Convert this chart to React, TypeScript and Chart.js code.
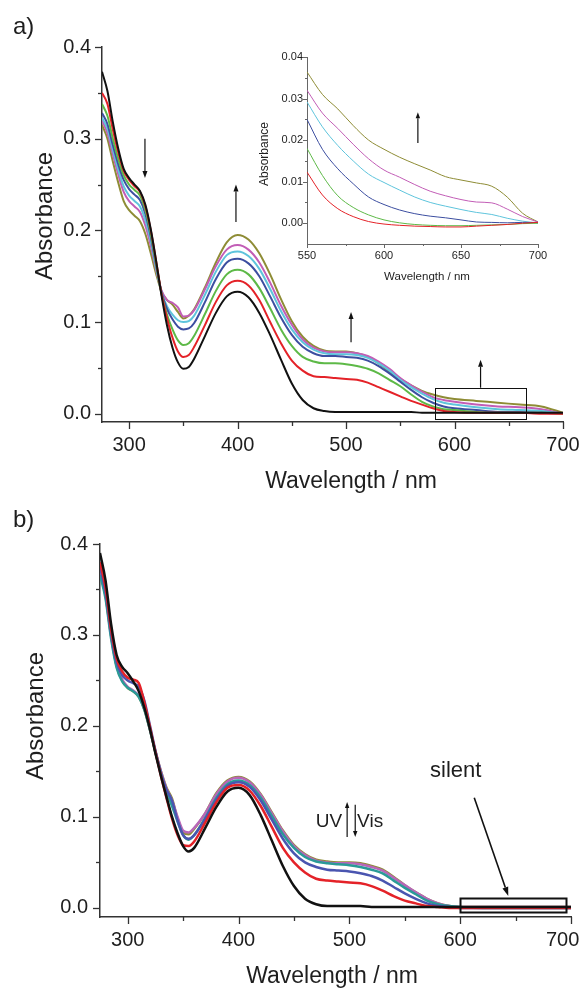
import React, { useEffect, useRef } from "react";
import { Chart, registerables } from "chart.js";

Chart.register(...registerables);

const FONT = '"Liberation Sans", Arial, Helvetica, sans-serif';
const INK = "#1e1e1e";

// ---------- data ----------
const WAVELENGTHS = [
  275, 280, 285, 290, 295, 300, 305, 310, 315, 320,
  325, 330, 335, 340, 345, 350, 355, 360,
  370, 380, 390, 400, 410, 420, 430, 440, 450, 460,
  470, 480, 490, 500, 510, 520, 530, 540, 550, 560,
  570, 580, 590, 600, 620, 640, 660, 680, 700,
];

// panel a (UV irradiation series)
const A_BLACK = [0.373, 0.352, 0.318, 0.289, 0.267, 0.257, 0.250, 0.243, 0.228, 0.201, 0.166, 0.128, 0.096, 0.072, 0.056, 0.049, 0.051, 0.060, 0.085, 0.110, 0.128, 0.133, 0.127, 0.110, 0.086, 0.059, 0.033, 0.015, 0.006, 0.003, 0.002, 0.002, 0.002, 0.002, 0.002, 0.002, 0.002, 0.002, 0.001, 0.001, 0.001, 0.001, 0.001, 0.001, 0.001, 0.001, 0.001];
const A_RED = [0.350, 0.338, 0.310, 0.285, 0.265, 0.255, 0.248, 0.242, 0.226, 0.200, 0.166, 0.130, 0.104, 0.083, 0.068, 0.062, 0.064, 0.073, 0.097, 0.122, 0.140, 0.145, 0.140, 0.124, 0.100, 0.077, 0.058, 0.047, 0.041, 0.040, 0.039, 0.038, 0.037, 0.034, 0.029, 0.024, 0.019, 0.014, 0.010, 0.006, 0.003, 0.002, 0.001, 0.001, 0.001, 0.000, 0.000];
const A_GREEN = [0.338, 0.325, 0.300, 0.278, 0.260, 0.250, 0.244, 0.238, 0.222, 0.196, 0.163, 0.130, 0.108, 0.092, 0.080, 0.075, 0.077, 0.085, 0.109, 0.134, 0.152, 0.157, 0.152, 0.137, 0.115, 0.092, 0.074, 0.062, 0.057, 0.055, 0.055, 0.054, 0.052, 0.049, 0.044, 0.037, 0.030, 0.021, 0.013, 0.008, 0.005, 0.004, 0.002, 0.001, 0.001, 0.001, 0.000];
const A_BLUE = [0.328, 0.316, 0.293, 0.272, 0.255, 0.245, 0.239, 0.233, 0.218, 0.193, 0.161, 0.132, 0.114, 0.103, 0.095, 0.092, 0.093, 0.099, 0.122, 0.147, 0.165, 0.169, 0.164, 0.150, 0.128, 0.105, 0.086, 0.073, 0.066, 0.063, 0.063, 0.062, 0.061, 0.058, 0.052, 0.044, 0.035, 0.026, 0.018, 0.012, 0.008, 0.006, 0.004, 0.002, 0.002, 0.001, 0.000];
const A_CYAN = [0.323, 0.311, 0.288, 0.266, 0.248, 0.238, 0.232, 0.226, 0.211, 0.188, 0.158, 0.132, 0.117, 0.108, 0.102, 0.100, 0.101, 0.107, 0.130, 0.155, 0.173, 0.177, 0.172, 0.158, 0.136, 0.112, 0.092, 0.078, 0.070, 0.066, 0.065, 0.065, 0.064, 0.061, 0.055, 0.047, 0.037, 0.029, 0.022, 0.016, 0.012, 0.010, 0.007, 0.005, 0.004, 0.003, 0.000];
const A_MAGENTA = [0.320, 0.306, 0.283, 0.261, 0.242, 0.232, 0.226, 0.220, 0.205, 0.183, 0.156, 0.134, 0.124, 0.121, 0.116, 0.106, 0.107, 0.113, 0.136, 0.161, 0.179, 0.184, 0.179, 0.165, 0.143, 0.118, 0.097, 0.081, 0.072, 0.068, 0.067, 0.067, 0.066, 0.063, 0.057, 0.049, 0.039, 0.031, 0.024, 0.018, 0.015, 0.013, 0.010, 0.008, 0.007, 0.005, 0.000];
const A_OLIVE = [0.315, 0.300, 0.275, 0.252, 0.232, 0.222, 0.216, 0.210, 0.196, 0.175, 0.152, 0.133, 0.124, 0.119, 0.111, 0.104, 0.107, 0.114, 0.138, 0.165, 0.187, 0.195, 0.190, 0.175, 0.152, 0.125, 0.101, 0.084, 0.074, 0.069, 0.068, 0.068, 0.066, 0.062, 0.055, 0.046, 0.038, 0.031, 0.025, 0.021, 0.018, 0.016, 0.014, 0.012, 0.010, 0.008, 0.001];

// inset of panel a (550-700 nm)
const INSET_WL = [550, 560, 570, 580, 590, 600, 610, 620, 630, 640, 650, 660, 670, 680, 690, 700];
const I_RED = [0.0123, 0.0068, 0.0035, 0.0016, 0.0004, -0.0002, -0.0005, -0.0007, -0.0008, -0.0009, -0.0009, -0.0007, -0.0005, -0.0003, 0.0, 0.0002];
const I_GREEN = [0.018, 0.0115, 0.0066, 0.0038, 0.002, 0.0008, 0.0001, -0.0003, -0.0005, -0.0006, -0.0006, -0.0005, -0.0004, -0.0003, -0.0001, 0.0];
const I_BLUE = [0.025, 0.0178, 0.0131, 0.0095, 0.0063, 0.0045, 0.0032, 0.0023, 0.0017, 0.0013, 0.0008, 0.0003, 0.0002, 0.0001, 0.0002, 0.0002];
const I_CYAN = [0.0292, 0.0232, 0.0187, 0.015, 0.0118, 0.0098, 0.008, 0.0063, 0.005, 0.0041, 0.0033, 0.0026, 0.0021, 0.0012, 0.0005, 0.0];
const I_MAGENTA = [0.032, 0.0265, 0.0228, 0.019, 0.0155, 0.0128, 0.0111, 0.0093, 0.0077, 0.0066, 0.0057, 0.0051, 0.0049, 0.0034, 0.0016, 0.0003];
const I_OLIVE = [0.0364, 0.031, 0.0275, 0.0235, 0.020, 0.0178, 0.0159, 0.0143, 0.0128, 0.0112, 0.0104, 0.0097, 0.0089, 0.0063, 0.0024, 0.0003];

// panel b (UV / Vis switching series)
const B_BLACK = [0.390, 0.360, 0.312, 0.278, 0.265, 0.258, 0.249, 0.238, 0.220, 0.197, 0.170, 0.145, 0.122, 0.100, 0.082, 0.068, 0.062, 0.066, 0.088, 0.111, 0.128, 0.132, 0.124, 0.102, 0.074, 0.046, 0.024, 0.010, 0.004, 0.002, 0.002, 0.002, 0.002, 0.001, 0.001, 0.001, 0.001, 0.001, 0.001, 0.001, 0.001, 0.001, 0.001, 0.001, 0.001, 0.001, 0.001];
const B_RED = [0.380, 0.352, 0.306, 0.274, 0.260, 0.253, 0.251, 0.247, 0.226, 0.199, 0.171, 0.145, 0.121, 0.098, 0.080, 0.069, 0.068, 0.073, 0.094, 0.116, 0.132, 0.135, 0.129, 0.112, 0.089, 0.066, 0.050, 0.039, 0.032, 0.030, 0.029, 0.028, 0.027, 0.024, 0.019, 0.013, 0.008, 0.005, 0.002, 0.001, 0.000, 0.000, 0.000, 0.000, 0.000, 0.000, 0.000];
const B_BLUE = [0.375, 0.347, 0.302, 0.270, 0.256, 0.250, 0.247, 0.243, 0.228, 0.201, 0.173, 0.148, 0.130, 0.118, 0.096, 0.080, 0.076, 0.080, 0.098, 0.119, 0.134, 0.138, 0.133, 0.118, 0.097, 0.076, 0.060, 0.050, 0.045, 0.042, 0.041, 0.040, 0.038, 0.035, 0.030, 0.023, 0.016, 0.010, 0.005, 0.002, 0.001, 0.000, 0.000, 0.000, 0.000, 0.000, 0.000];
const B_TEAL = [0.366, 0.340, 0.296, 0.264, 0.249, 0.242, 0.238, 0.232, 0.218, 0.196, 0.171, 0.148, 0.128, 0.112, 0.095, 0.080, 0.075, 0.080, 0.099, 0.121, 0.136, 0.140, 0.135, 0.121, 0.101, 0.081, 0.066, 0.056, 0.051, 0.049, 0.048, 0.047, 0.045, 0.042, 0.038, 0.030, 0.022, 0.015, 0.008, 0.004, 0.002, 0.001, 0.000, 0.000, 0.000, 0.000, 0.000];
const B_MAGENTA = [0.374, 0.345, 0.300, 0.267, 0.251, 0.243, 0.239, 0.233, 0.219, 0.197, 0.172, 0.150, 0.131, 0.118, 0.100, 0.085, 0.083, 0.088, 0.104, 0.125, 0.139, 0.143, 0.138, 0.124, 0.104, 0.084, 0.068, 0.058, 0.052, 0.050, 0.049, 0.049, 0.048, 0.045, 0.041, 0.033, 0.025, 0.017, 0.010, 0.005, 0.002, 0.001, 0.001, 0.001, 0.001, 0.001, 0.001];
const B_OLIVE = [0.371, 0.343, 0.299, 0.266, 0.250, 0.242, 0.238, 0.232, 0.218, 0.196, 0.172, 0.150, 0.132, 0.120, 0.098, 0.083, 0.081, 0.087, 0.104, 0.126, 0.140, 0.144, 0.139, 0.125, 0.105, 0.085, 0.069, 0.059, 0.053, 0.051, 0.050, 0.050, 0.049, 0.046, 0.042, 0.034, 0.025, 0.017, 0.010, 0.005, 0.002, 0.001, 0.001, 0.001, 0.001, 0.001, 0.001];

// axis ticks
const MAIN_X_TICKS = [300, 400, 500, 600, 700];
const MAIN_X_MINOR = [350, 450, 550, 650];
const MAIN_Y_TICKS = [0.0, 0.1, 0.2, 0.3, 0.4];
const MAIN_Y_MINOR = [0.05, 0.15, 0.25, 0.35];
const INSET_X_TICKS = [550, 600, 650, 700];
const INSET_X_MINOR = [575, 625, 675];
const INSET_Y_TICKS = [0.0, 0.01, 0.02, 0.03, 0.04];
const INSET_Y_MINOR = [0.005, 0.015, 0.025, 0.035];

const COLORS = {
  black: "#111111",
  red: "#e42228",
  green: "#5db947",
  blue: "#3c4ea0",
  cyan: "#5ec4dc",
  magenta: "#c25db6",
  olive: "#8e8c35",
  blueB: "#4a55b0",
  teal: "#2a9a98",
  magentaB: "#b866b8",
};

// ---------- helpers ----------
function series(label, xs, ys, color, width) {
  return {
    label,
    data: xs.map((x, i) => ({ x, y: ys[i] })),
    borderColor: color,
    backgroundColor: color,
    borderWidth: width,
    pointRadius: 0,
    fill: false,
    cubicInterpolationMode: "monotone",
  };
}

function drawArrow(ctx, x1, y1, x2, y2, head, hw) {
  const ang = Math.atan2(y2 - y1, x2 - x1);
  const bx = x2 - head * Math.cos(ang);
  const by = y2 - head * Math.sin(ang);
  ctx.beginPath();
  ctx.moveTo(x1, y1);
  ctx.lineTo(bx, by);
  ctx.stroke();
  ctx.beginPath();
  ctx.moveTo(x2, y2);
  ctx.lineTo(bx + hw * Math.sin(ang), by - hw * Math.cos(ang));
  ctx.lineTo(bx - hw * Math.sin(ang), by + hw * Math.cos(ang));
  ctx.closePath();
  ctx.fill();
}

function decorPlugin(cfg) {
  return {
    id: "decor",
    afterDraw(chart) {
      const ctx = chart.ctx;
      const xs = chart.scales.x;
      const ys = chart.scales.y;
      const a = chart.chartArea;
      ctx.save();
      // tick marks (outward)
      ctx.strokeStyle = cfg.axisColor;
      ctx.lineWidth = cfg.tickWidth;
      const tick = (x1, y1, x2, y2) => {
        ctx.beginPath();
        ctx.moveTo(x1, y1);
        ctx.lineTo(x2, y2);
        ctx.stroke();
      };
      cfg.yMajor.forEach((v) => {
        const p = Math.round(ys.getPixelForValue(v)) + 0.5;
        tick(a.left - cfg.majorLen, p, a.left, p);
      });
      cfg.yMinor.forEach((v) => {
        const p = Math.round(ys.getPixelForValue(v)) + 0.5;
        tick(a.left - cfg.minorLen, p, a.left, p);
      });
      cfg.xMajor.forEach((v) => {
        const p = Math.round(xs.getPixelForValue(v)) + 0.5;
        tick(p, a.bottom, p, a.bottom + cfg.majorLen);
      });
      cfg.xMinor.forEach((v) => {
        const p = Math.round(xs.getPixelForValue(v)) + 0.5;
        tick(p, a.bottom, p, a.bottom + cfg.minorLen);
      });

      // axis titles
      ctx.fillStyle = INK;
      ctx.textBaseline = "alphabetic";
      ctx.font = `${cfg.xTitleSize}px ${FONT}`;
      ctx.textAlign = "center";
      ctx.fillText(cfg.xTitle, cfg.xTitleX, cfg.xTitleY);
      ctx.save();
      ctx.translate(cfg.yTitleX, cfg.yTitleY);
      ctx.rotate(-Math.PI / 2);
      ctx.font = `${cfg.yTitleSize}px ${FONT}`;
      ctx.fillText(cfg.yTitle, 0, 0);
      ctx.restore();

      if (cfg.panelLabel) {
        ctx.textAlign = "left";
        ctx.font = `${cfg.panelLabel.size}px ${FONT}`;
        ctx.fillText(cfg.panelLabel.text, cfg.panelLabel.x, cfg.panelLabel.y);
      }

      // annotations in data coordinates
      ctx.strokeStyle = "#111";
      ctx.fillStyle = "#111";
      (cfg.rects || []).forEach((r) => {
        ctx.lineWidth = r.lw;
        const x1 = xs.getPixelForValue(r.x1);
        const x2 = xs.getPixelForValue(r.x2);
        const y1 = ys.getPixelForValue(r.y1);
        const y2 = ys.getPixelForValue(r.y2);
        ctx.strokeRect(Math.round(x1) + 0.5, Math.round(y2) + 0.5, Math.round(x2 - x1), Math.round(y1 - y2));
      });
      (cfg.arrows || []).forEach((ar) => {
        ctx.lineWidth = ar.lw;
        drawArrow(
          ctx,
          xs.getPixelForValue(ar.x1),
          ys.getPixelForValue(ar.y1),
          xs.getPixelForValue(ar.x2),
          ys.getPixelForValue(ar.y2),
          ar.head,
          ar.hw
        );
      });
      (cfg.texts || []).forEach((t) => {
        ctx.font = `${t.size}px ${FONT}`;
        ctx.textAlign = t.align;
        ctx.fillStyle = INK;
        ctx.fillText(t.text, xs.getPixelForValue(t.x), ys.getPixelForValue(t.y));
      });
      ctx.restore();
    },
  };
}

function buildConfig(p) {
  return {
    type: "line",
    data: { datasets: p.datasets },
    options: {
      responsive: false,
      maintainAspectRatio: false,
      animation: false,
      devicePixelRatio: 1,
      layout: { padding: { left: 0, right: p.padRight, top: p.padTop, bottom: 0 } },
      plugins: { legend: { display: false }, tooltip: { enabled: false }, title: { display: false } },
      scales: {
        x: {
          type: "linear",
          min: p.xMin,
          max: p.xMax,
          grid: { display: false, drawTicks: false },
          border: { display: true, color: p.axisColor, width: p.axisWidth },
          afterBuildTicks: (s) => {
            s.ticks = p.xTicks.map((v) => ({ value: v }));
          },
          afterFit: (s) => {
            s.height = p.xHeight;
            s.paddingLeft = 0;
            s.paddingRight = 0;
          },
          ticks: {
            autoSkip: false,
            maxRotation: 0,
            minRotation: 0,
            padding: p.xPad,
            color: INK,
            font: { family: FONT, size: p.tickSize },
            // the last label of a panel may be nudged left (trailing spaces) to stay inside the page, as in the original
            callback: (v) => (p.lastLabelPad && v === p.xMax ? String(v) + p.lastLabelPad : String(v)),
          },
        },
        y: {
          type: "linear",
          min: p.yMin,
          max: p.yMax,
          grid: { display: false, drawTicks: false },
          border: { display: true, color: p.axisColor, width: p.axisWidth },
          afterBuildTicks: (s) => {
            s.ticks = p.yTicks.map((v) => ({ value: v }));
          },
          afterFit: (s) => {
            s.width = p.yWidth;
            s.paddingTop = 0;
            s.paddingBottom = 0;
          },
          ticks: {
            autoSkip: false,
            padding: p.yPad,
            color: INK,
            font: { family: FONT, size: p.tickSize },
            callback: (v) => Number(v).toFixed(p.yDecimals),
          },
        },
      },
    },
    plugins: [decorPlugin(p.decor)],
  };
}

function ChartCanvas({ left, top, width, height, make }) {
  const ref = useRef(null);
  useEffect(() => {
    const chart = new Chart(ref.current, make());
    return () => chart.destroy();
  }, []);
  return (
    <canvas
      ref={ref}
      width={width}
      height={height}
      style={{ position: "absolute", left, top, width, height, display: "block" }}
    />
  );
}

// ---------- chart configs ----------
const makePanelA = () =>
  buildConfig({
    datasets: [
      series("0", WAVELENGTHS, A_BLACK, COLORS.black, 2),
      series("1", WAVELENGTHS, A_RED, COLORS.red, 2),
      series("2", WAVELENGTHS, A_GREEN, COLORS.green, 2),
      series("3", WAVELENGTHS, A_BLUE, COLORS.blue, 2),
      series("4", WAVELENGTHS, A_CYAN, COLORS.cyan, 2),
      series("5", WAVELENGTHS, A_MAGENTA, COLORS.magenta, 2),
      series("6", WAVELENGTHS, A_OLIVE, COLORS.olive, 2),
    ],
    xMin: 275,
    xMax: 700,
    yMin: -0.009,
    yMax: 0.4,
    xTicks: MAIN_X_TICKS,
    yTicks: MAIN_Y_TICKS,
    yDecimals: 1,
    padRight: 18,
    padTop: 47,
    yWidth: 102,
    xHeight: 78,
    xPad: 11,
    yPad: 11,
    tickSize: 20,
    axisColor: "#333",
    axisWidth: 1.5,
    lastLabelPad: "",
    decor: {
      axisColor: "#333",
      tickWidth: 1.3,
      majorLen: 7,
      minorLen: 4,
      xMajor: MAIN_X_TICKS,
      xMinor: MAIN_X_MINOR,
      yMajor: MAIN_Y_TICKS,
      yMinor: MAIN_Y_MINOR,
      xTitle: "Wavelength / nm",
      xTitleSize: 23,
      xTitleX: 351,
      xTitleY: 488,
      yTitle: "Absorbance",
      yTitleSize: 24,
      yTitleX: 52,
      yTitleY: 216,
      panelLabel: { text: "a)", x: 13, y: 34, size: 24 },
      rects: [{ x1: 582, x2: 666, y1: -0.0055, y2: 0.0284, lw: 1 }],
      arrows: [
        { x1: 314.6, y1: 0.3, x2: 314.6, y2: 0.257, lw: 1.2, head: 7, hw: 2.5 },
        { x1: 398.5, y1: 0.209, x2: 398.5, y2: 0.25, lw: 1.2, head: 7, hw: 2.5 },
        { x1: 504.6, y1: 0.078, x2: 504.6, y2: 0.111, lw: 1.2, head: 7, hw: 2.5 },
        { x1: 624, y1: 0.0284, x2: 624, y2: 0.059, lw: 1.2, head: 7, hw: 2.5 },
      ],
      texts: [],
    },
  });

const makeInset = () =>
  buildConfig({
    datasets: [
      series("red", INSET_WL, I_RED, COLORS.red, 1),
      series("green", INSET_WL, I_GREEN, COLORS.green, 1),
      series("blue", INSET_WL, I_BLUE, COLORS.blue, 1),
      series("cyan", INSET_WL, I_CYAN, COLORS.cyan, 1),
      series("magenta", INSET_WL, I_MAGENTA, COLORS.magenta, 1),
      series("olive", INSET_WL, I_OLIVE, COLORS.olive, 1),
    ],
    xMin: 550,
    xMax: 700,
    yMin: -0.005,
    yMax: 0.04,
    xTicks: INSET_X_TICKS,
    yTicks: INSET_Y_TICKS,
    yDecimals: 2,
    padRight: 43,
    padTop: 57,
    yWidth: 67,
    xHeight: 46,
    xPad: 5,
    yPad: 4,
    tickSize: 11,
    axisColor: "#666",
    axisWidth: 1,
    lastLabelPad: "",
    decor: {
      axisColor: "#666",
      tickWidth: 1,
      majorLen: 4,
      minorLen: 2,
      xMajor: INSET_X_TICKS,
      xMinor: INSET_X_MINOR,
      yMajor: INSET_Y_TICKS,
      yMinor: INSET_Y_MINOR,
      xTitle: "Wavelength / nm",
      xTitleSize: 11.5,
      xTitleX: 187,
      xTitleY: 280,
      yTitle: "Absorbance",
      yTitleSize: 12,
      yTitleX: 28,
      yTitleY: 154,
      panelLabel: null,
      rects: [],
      arrows: [{ x1: 622, y1: 0.0193, x2: 622, y2: 0.0267, lw: 1.2, head: 6, hw: 2.2 }],
      texts: [],
    },
  });

const makePanelB = () =>
  buildConfig({
    datasets: [
      series("0", WAVELENGTHS, B_BLACK, COLORS.black, 2.5),
      series("1", WAVELENGTHS, B_RED, COLORS.red, 2.5),
      series("2", WAVELENGTHS, B_BLUE, COLORS.blueB, 2.5),
      series("3", WAVELENGTHS, B_TEAL, COLORS.teal, 2.5),
      series("4", WAVELENGTHS, B_MAGENTA, COLORS.magentaB, 2.5),
      series("5", WAVELENGTHS, B_OLIVE, COLORS.olive, 2.5),
    ],
    xMin: 275,
    xMax: 700,
    yMin: -0.01,
    yMax: 0.4,
    xTicks: MAIN_X_TICKS,
    yTicks: MAIN_Y_TICKS,
    yDecimals: 1,
    padRight: 10,
    padTop: 44,
    yWidth: 100,
    xHeight: 71,
    xPad: 11,
    yPad: 12,
    tickSize: 20,
    axisColor: "#333",
    axisWidth: 1.5,
    lastLabelPad: "   ",
    decor: {
      axisColor: "#333",
      tickWidth: 1.3,
      majorLen: 7,
      minorLen: 4,
      xMajor: MAIN_X_TICKS,
      xMinor: MAIN_X_MINOR,
      yMajor: MAIN_Y_TICKS,
      yMinor: MAIN_Y_MINOR,
      xTitle: "Wavelength / nm",
      xTitleSize: 23,
      xTitleX: 332,
      xTitleY: 483,
      yTitle: "Absorbance",
      yTitleSize: 24,
      yTitleX: 43,
      yTitleY: 216,
      panelLabel: { text: "b)", x: 13, y: 27, size: 24 },
      rects: [{ x1: 600, x2: 696, y1: -0.0044, y2: 0.011, lw: 2 }],
      arrows: [
        { x1: 612.7, y1: 0.121, x2: 643.4, y2: 0.013, lw: 1.6, head: 9, hw: 3 },
        { x1: 498, y1: 0.078, x2: 498, y2: 0.1165, lw: 1.2, head: 6, hw: 2.2 },
        { x1: 505.3, y1: 0.1135, x2: 505.3, y2: 0.078, lw: 1.2, head: 6, hw: 2.2 },
      ],
      texts: [
        { text: "silent", x: 596, y: 0.144, align: "center", size: 22 },
        { text: "UV", x: 493.5, y: 0.089, align: "right", size: 19 },
        { text: "Vis", x: 507, y: 0.089, align: "left", size: 19 },
      ],
    },
  });

export default function App() {
  return (
    <div
      style={{
        position: "absolute",
        left: 0,
        top: 0,
        width: 581,
        height: 988,
        background: "#ffffff",
        overflow: "hidden",
      }}
    >
      <ChartCanvas left={0} top={0} width={581} height={500} make={makePanelA} />
      <ChartCanvas left={240} top={0} width={341} height={290} make={makeInset} />
      <ChartCanvas left={0} top={500} width={581} height={488} make={makePanelB} />
    </div>
  );
}
